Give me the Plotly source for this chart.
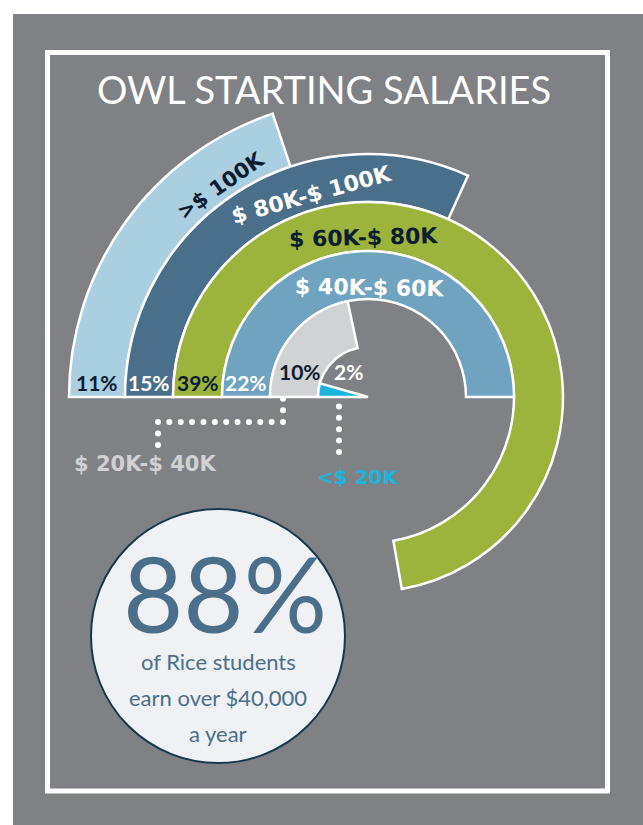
import numpy as np
import plotly.graph_objects as go

W, H = 643, 825

# ---------------- data ----------------
categories = [">$ 100K", "$ 80K-$ 100K", "$ 60K-$ 80K", "$ 40K-$ 60K", "$ 20K-$ 40K", "<$ 20K"]
percent = [11, 15, 39, 22, 10, 2]
arc_deg = [71.4, 114.3, 260.0, 180.0, 78.0, 16.0]   # arc sweep
headline_value = "88%"
headline_lines = ["of Rice students", "earn over $40,000", "a year"]
title_text = "OWL STARTING SALARIES"

# ---------------- layout / style ----------------
CX, CY = 368, 397
ring_inner = [243, 195, 146, 98, 50, 0]
ring_outer = [299, 243, 195, 146, 98, 50]
ring_colors = ["#a9cfe0", "#4a6f8a", "#9cb43c", "#6fa3bf", "#d1d2d4", "#1cb4dc"]
NAVY = "#0e1c2f"
BG = "#808185"
STEEL = "#4b6f8b"
LABEL_FONT = "DejaVu Sans"

fig = go.Figure()


def px2paper_x(v):
    return v / W


def px2paper_y(v):
    return 1 - v / H


# polar A: outer two rings (sector limited so it fits in the page)
RA = 302
secA = [58, 182]
bx0, bx1 = -1.0, np.cos(np.radians(secA[0]))
by0, by1 = np.sin(np.radians(secA[1])), 1.0
domA_x = [px2paper_x(CX + RA * bx0), px2paper_x(CX + RA * bx1)]
domA_y = [px2paper_y(CY - RA * by0), px2paper_y(CY - RA * by1)]

# polar B: inner rings, full circle
RB = 200
domB_x = [px2paper_x(CX - RB), px2paper_x(CX + RB)]
domB_y = [px2paper_y(CY + RB), px2paper_y(CY - RB)]

groups = [("polar", [0, 1]), ("polar2", [2, 3, 4, 5])]
for sub, idx in groups:
    fig.add_trace(go.Barpolar(
        subplot=sub,
        theta=[arc_deg[i] / 2 for i in idx],
        width=[arc_deg[i] for i in idx],
        base=[ring_inner[i] for i in idx],
        r=[ring_outer[i] - ring_inner[i] for i in idx],
        marker=dict(color=[ring_colors[i] for i in idx], line=dict(color="white", width=2.5)),
        hoverinfo="skip",
        showlegend=False,
    ))

axis_off_r = dict(visible=False, showgrid=False, showline=False, showticklabels=False, ticks="")
axis_off_a = dict(visible=False, showgrid=False, showline=False, showticklabels=False, ticks="",
                  rotation=180, direction="clockwise")

fig.update_layout(
    polar=dict(domain=dict(x=domA_x, y=domA_y), sector=secA, bgcolor="rgba(0,0,0,0)", hole=0,
               radialaxis=dict(range=[0, RA], **axis_off_r), angularaxis=axis_off_a),
    polar2=dict(domain=dict(x=domB_x, y=domB_y), bgcolor="rgba(0,0,0,0)", hole=0,
                radialaxis=dict(range=[0, RB], **axis_off_r), angularaxis=axis_off_a),
)

# pixel-space cartesian overlay for decorations
fig.update_layout(
    xaxis=dict(range=[0, W], visible=False, fixedrange=True, domain=[0, 1]),
    yaxis=dict(range=[H, 0], visible=False, fixedrange=True, domain=[0, 1]),
)


def dots(points, step=11.6):
    xs, ys = [], []
    for k, ((x0, y0), (x1, y1)) in enumerate(zip(points[:-1], points[1:])):
        L = np.hypot(x1 - x0, y1 - y0)
        n = max(int(round(L / step)), 1)
        t = np.linspace(0, 1, n + 1)
        if k < len(points) - 2:
            t = t[:-1]
        xs += list(x0 + (x1 - x0) * t)
        ys += list(y0 + (y1 - y0) * t)
    return xs, ys


for path in ([(283, 387), (283, 422), (158, 422), (158, 445)], [(339, 395), (339, 452)]):
    xs, ys = dots(path)
    fig.add_trace(go.Scatter(x=xs, y=ys, mode="markers", xaxis="x", yaxis="y",
                             marker=dict(color="white", size=6), hoverinfo="skip", showlegend=False))

shapes = [
    dict(type="rect", xref="x", yref="y", x0=13, y0=14, x1=W + 5, y1=H + 5,
         fillcolor=BG, line=dict(width=0), layer="below"),
    dict(type="rect", xref="x", yref="y", x0=47.5, y0=52.5, x1=607.5, y1=791,
         fillcolor="rgba(0,0,0,0)", line=dict(color="white", width=5), layer="below"),
    dict(type="circle", xref="x", yref="y", x0=218 - 127, y0=636 - 127, x1=218 + 127, y1=636 + 127,
         fillcolor="#eff1f4", line=dict(color="#17374c", width=2), layer="below"),
]

ann = []


def add_text(x, y, text, size, color, family=LABEL_FONT, weight="bold", angle=0):
    ann.append(dict(x=x, y=y, xref="x", yref="y", text=text, showarrow=False, textangle=angle,
                    font=dict(size=size, color=color, family=family, weight=weight),
                    xanchor="center", yanchor="middle"))


add_text(323.5, 89, title_text, 38, "white", family="Lato", weight="normal")

# curved ring labels (approximated with rotated text)
arc_lab = [(125, 257, NAVY, 21), (105.5, 210, "white", 22), (91.5, 160, NAVY, 22), (89, 110, "white", 22)]
for i, (ang, rr, col, sz) in enumerate(arc_lab):
    x = CX + rr * np.cos(np.radians(ang))
    y = CY - rr * np.sin(np.radians(ang))
    add_text(x, y, categories[i], sz, col, angle=-(ang - 90))

# percentage labels at the base of each ring
pct_colors = [NAVY, "white", NAVY, "white", NAVY, "white"]
for i in range(4):
    add_text(CX - (ring_inner[i] + ring_outer[i]) / 2, 382, f"{percent[i]}%", 21, pct_colors[i], family="Lato")
add_text(300, 371, f"{percent[4]}%", 21, pct_colors[4], family="Lato")
add_text(348, 371, f"{percent[5]}%", 21, pct_colors[5], family="Lato")

# callout labels
add_text(145, 464, categories[4], 21, "#d0d1d3")
add_text(358, 477, categories[5], 20, ring_colors[5])

# headline circle
add_text(225, 592, headline_value, 104, STEEL, family="Lato", weight="normal")
for j, (line, yy) in enumerate(zip(headline_lines, [661, 697, 733])):
    add_text(218, yy, line, 22, STEEL, family="Lato", weight="normal")

fig.update_layout(
    width=W, height=H, margin=dict(l=0, r=0, t=0, b=0),
    paper_bgcolor="white", plot_bgcolor="rgba(0,0,0,0)",
    shapes=shapes, annotations=ann, showlegend=False,
)

fig.write_html("out.html", config={"displayModeBar": False},
               post_script="document.body.style.margin='0px';document.documentElement.style.overflow='hidden';")
